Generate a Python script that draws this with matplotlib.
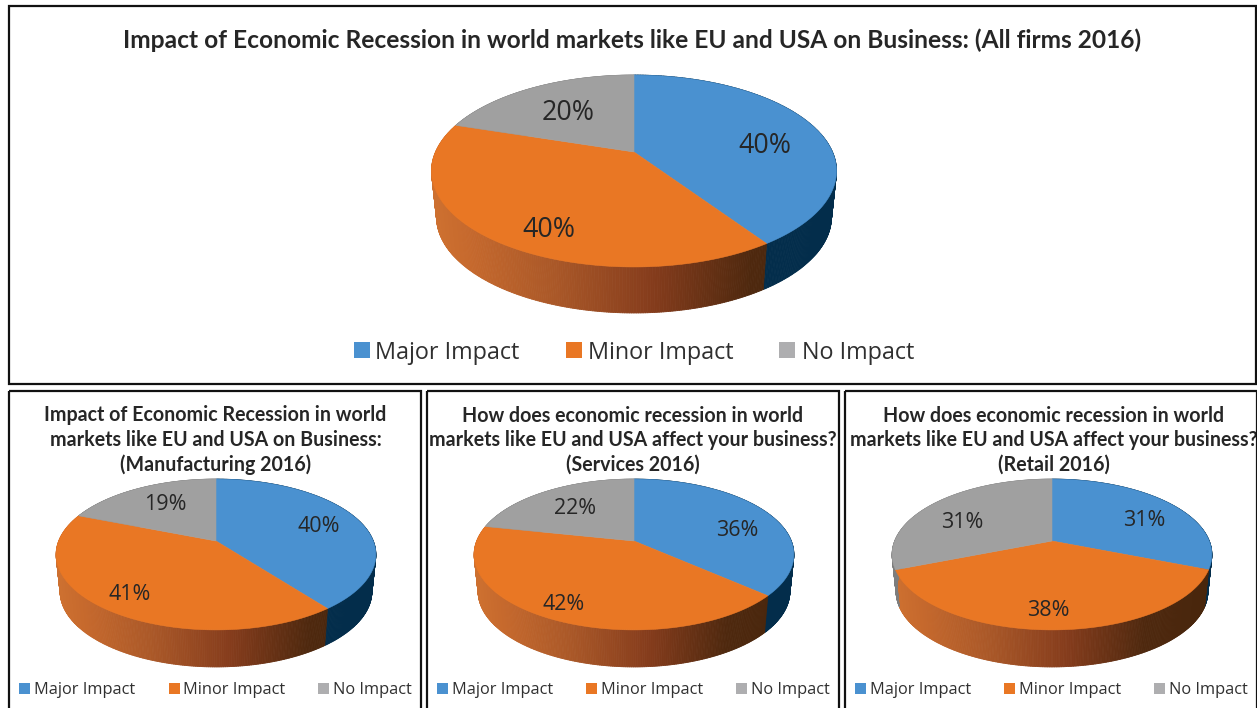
import numpy as np
import matplotlib
matplotlib.use("Agg")
import matplotlib.pyplot as plt
from matplotlib.patches import Polygon, Rectangle
from matplotlib.collections import PolyCollection

# ---- data (slices; labels show the rounded percentages) ----
categories = ["Major Impact", "Minor Impact", "No Impact"]
all_firms = [40.7, 39.5, 20.1]
manufacturing = [39.6, 41.4, 19.0]
services = [36.5, 41.8, 21.7]
retail = [31, 38, 31]

labels_all = ["40%", "40%", "20%"]
labels_man = ["40%", "41%", "19%"]
labels_ser = ["36%", "42%", "22%"]
labels_ret = ["31%", "38%", "31%"]

title_all = "Impact of Economic Recession in world markets like EU and USA on Business: (All firms 2016)"
title_man = "Impact of Economic Recession in world\nmarkets like EU and USA on Business:\n(Manufacturing 2016)"
title_ser = "How does economic recession in world\nmarkets like EU and USA affect your business?\n(Services 2016)"
title_ret = "How does economic recession in world\nmarkets like EU and USA affect your business?\n(Retail 2016)"

BLUE, ORANGE, GREY = "#4a91d0", "#e97724", "#a0a0a0"
TOP_COLORS = [BLUE, ORANGE, GREY]
SWATCH = [BLUE, ORANGE, "#aeaeb0"]
TEXT = "#262626"

W, H = 1257, 708
fig = plt.figure(figsize=(W / 100, H / 100), dpi=100, facecolor="white")
ax = fig.add_axes([0, 0, 1, 1])
ax.set_xlim(0, W)
ax.set_ylim(H, 0)
ax.axis("off")


def project(theta, cx, cy, rx, ry, k):
    """Perspective projection of a point on the pie rim (theta clockwise from 12 o'clock)."""
    u, v = np.sin(theta), -np.cos(theta)
    d = 1 - k * v
    return cx + rx * u / d, cy + ry * v / d


def side_colour(kind, t):
    t = np.clip(t, 0, 1)
    if kind == 0:
        return np.array([3, 45, 75]) / 255
    if kind == 2:
        return np.array([125, 125, 125]) / 255
    xs = [0.0, 0.08, 0.3, 0.55, 0.8, 1.0]
    stops = np.array([[205, 112, 48], [198, 105, 45], [170, 88, 40],
                      [133, 60, 28], [78, 40, 14], [72, 38, 12]]) / 255
    return np.array([np.interp(t, xs, stops[:, i]) for i in range(3)])


def draw_pie(values, cx, cy, rx, ry, k, depth, taper=0.975):
    frac = np.asarray(values, float) / np.sum(values)
    edges = np.concatenate([[0], np.cumsum(frac)]) * 2 * np.pi
    # side wall: fine strips from the rim down to the (slightly narrower) lower rim
    for i in range(len(values)):
        th = np.linspace(edges[i], edges[i + 1], 260)
        x, y = project(th, cx, cy, rx, ry, k)
        xb = cx + taper * (x - cx)
        yb = y + depth
        quads, cols = [], []
        for j in range(len(th) - 1):
            quads.append([(x[j], y[j]), (x[j + 1], y[j + 1]), (xb[j + 1], yb[j + 1]), (xb[j], yb[j])])
            cols.append(side_colour(i, (x[j] - (cx - rx)) / (2 * rx)))
        ax.add_collection(PolyCollection(quads, facecolors=cols, edgecolors=cols, linewidths=0.6, zorder=2))
    # top face
    for i in range(len(values)):
        th = np.linspace(edges[i], edges[i + 1], 200)
        x, y = project(th, cx, cy, rx, ry, k)
        pts = np.column_stack([np.r_[cx, x], np.r_[cy, y]])
        ax.add_patch(Polygon(pts, closed=True, facecolor=TOP_COLORS[i], edgecolor=TOP_COLORS[i],
                             linewidth=0.4, zorder=3))


def draw_legend(square_x, text_x, y, size, fs):
    for name, c, sx, tx in zip(categories, SWATCH, square_x, text_x):
        ax.add_patch(Rectangle((sx, y - size / 2), size, size, facecolor=c, edgecolor="none", zorder=4))
        ax.text(tx, y, name, family="Open Sans", fontsize=fs, color="#303030", ha="left", va="center_baseline", zorder=5)


def frame(x0, y0, x1, y1):
    ax.add_patch(Rectangle((x0, y0), x1 - x0, y1 - y0, facecolor="none", edgecolor="#111111",
                           linewidth=1.6, zorder=6, clip_on=False))


# ---- top panel ----
frame(9, 6, 1256, 384)
ax.text(632.5, 40, title_all, family="Lato", weight="bold", fontsize=17.68, color=TEXT, ha="center", va="center")
draw_pie(all_firms, 634, 152, 198.5, 92.2, 0.198, 46)
for lab, (lx, ly) in zip(labels_all, [(765, 146), (549, 230), (568, 113)]):
    ax.text(lx, ly, lab, family="Open Sans", fontsize=19.3, color=TEXT, ha="center", va="center", zorder=5)
draw_legend([354, 566, 779], [375, 588, 802], 350, 16, 16.8)

# ---- lower panels ----
panels = [
    (9, 421, 216, title_man, 215.5, manufacturing, labels_man,
     [(319, 527), (130, 594), (165, 505)], [19, 169, 318], [34, 183, 333]),
    (427, 839, 634, title_ser, 633, services, labels_ser,
     [(737, 530), (564, 604), (575, 509)], [437, 586, 736], [452, 601, 751]),
    (845, 1257, 1052, title_ret, 1054, retail, labels_ret,
     [(1144, 520), (1048, 611), (962, 522)], [855, 1004, 1154], [870, 1019, 1169]),
]
for x0, x1, cx, title, tx, vals, labs, lab_pos, sq, txt in panels:
    frame(x0, 390.5, x1, H + 5)
    ax.text(tx, 440, title, family="Lato", weight="bold", fontsize=14.1, color=TEXT, ha="center", va="center",
            linespacing=1.28)
    draw_pie(vals, cx, 541, 157.3, 73, 0.179, 37)
    for lab, (lx, ly) in zip(labs, lab_pos):
        ax.text(lx, ly, lab, family="Open Sans", fontsize=15.5, color=TEXT, ha="center", va="center", zorder=5)
    draw_legend(sq, txt, 688, 11, 11.8)

fig.savefig("out.png", dpi=100, facecolor="white")
